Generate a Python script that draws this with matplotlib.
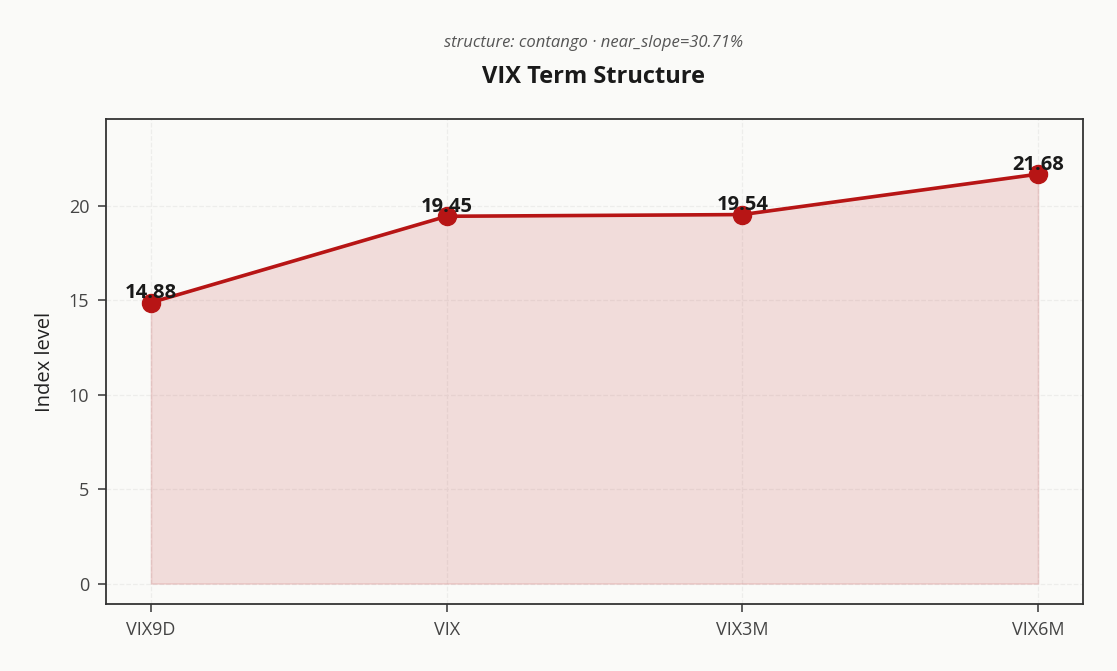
import matplotlib
matplotlib.use("Agg")
import matplotlib.pyplot as plt

plt.rcParams['font.family'] = ['Open Sans', 'DejaVu Sans']

tenors = ["VIX9D", "VIX", "VIX3M", "VIX6M"]
levels = [14.88, 19.45, 19.54, 21.68]
title = "VIX Term Structure"
subtitle = "structure: contango · near_slope=30.71%"

bg = "#FAFAF8"
red = "#B71515"

fig = plt.figure(figsize=(11.17, 6.71), dpi=100, facecolor=bg)
ax = fig.add_axes([106/1117, 1-604/671, (1083-106)/1117, (604-119)/671])
ax.set_facecolor(bg)

x = list(range(len(tenors)))
ax.fill_between(x, 0, levels, color=red, alpha=0.13, linewidth=1.2, edgecolor=(0.72, 0.08, 0.08, 0.15))
ax.plot(x, levels, color=red, linewidth=2.6, marker='o', markersize=13, zorder=3)
for xi, v in zip(x, levels):
    ax.annotate(f"{v:.2f}", (xi, v), xytext=(0, -0.5), textcoords='offset points',
                ha='center', va='bottom', fontsize=14.5, fontweight='bold', color='#1a1a1a', zorder=4)

ax.set_xticks(x)
ax.set_xticklabels(tenors)
ax.set_yticks([0, 5, 10, 15, 20])
ax.set_xlim(-0.152, 3.152)
ax.set_ylim(-1.08, 24.6)
ax.grid(True, linestyle='--', color='#ededeb', linewidth=0.9)
ax.set_axisbelow(True)
for s in ax.spines.values():
    s.set_color('#333333')
    s.set_linewidth(1.3)
ax.tick_params(axis='both', colors='#444444', labelsize=13, length=6, width=1.2, pad=6)
ax.tick_params(axis='both', labelcolor='#444444')
ax.set_ylabel("Index level", fontsize=14.5, color='#222222', labelpad=10)

fig.text(594/1117, 1-77/671, title, ha='center', va='center', fontsize=17, fontweight='bold', color='#1a1a1a')
fig.text(594/1117, 1-43/671, subtitle, ha='center', va='center', fontsize=12, style='italic', color='#555555')

fig.savefig("out.png", dpi=100, facecolor=bg)
